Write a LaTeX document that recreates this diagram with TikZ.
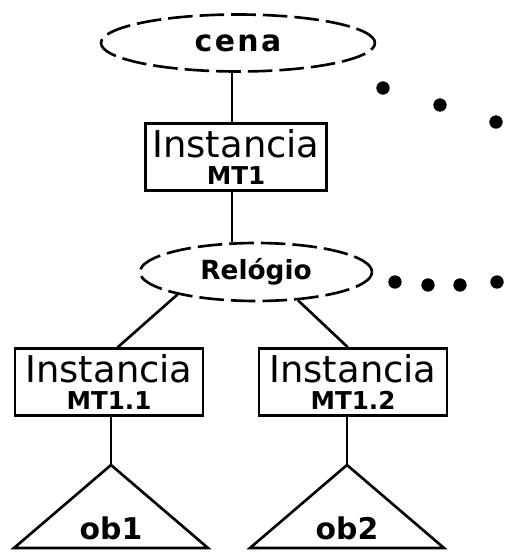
\documentclass[tikz,border=0pt]{standalone}
\usepackage{fontspec}
\setmainfont{DejaVu Sans}
\newfontfamily\spaced[LetterSpace=8]{DejaVu Sans}
\usetikzlibrary{shapes}
\tikzstyle{scene}=[ellipse,draw,line width=1.5pt,dash pattern=on 14pt off 4pt,inner sep=0pt]
\tikzstyle{instance}=[rectangle,draw,line width=1.5pt,align=center,inner sep=0pt,minimum height=1.34cm,font=\fontsize{21}{15}\selectfont]
\tikzstyle{objname}=[font=\fontsize{17}{19}\selectfont\bfseries]
\tikzstyle{edge}=[draw,line width=1.5pt]
\tikzstyle{dot}=[circle,fill=black,inner sep=0pt,minimum size=7.6pt]

\begin{document}
\begin{tikzpicture}[x=0.02cm,y=-0.02cm]
    \useasboundingbox (0,0) rectangle (512,558);
    % the two scene ellipses
    \node[scene,minimum width=5.48cm,minimum height=1.14cm,font=\fontsize{17}{19}\spaced\bfseries] (cena) at (238,43) {cena};
    \node[scene,minimum width=4.64cm,minimum height=1.16cm,font=\fontsize{15}{17}\selectfont\bfseries] (relogio) at (256,272) {Relógio};
    % instance boxes
    \foreach \pos/\name/\boxw/\label in {{(236,157)/MT1/3.62cm/MT1}, {(109,382)/MT11/3.76cm/MT1.1}, {(353,382)/MT12/3.76cm/MT1.2}}
        \node[instance,minimum width=\boxw] (\name) at \pos {Instancia\\{\fontsize{14}{15}\selectfont\bfseries\label}};
    % objects
    \foreach \x/\name/\label in {111/ob1/ob1, 347/ob2/ob2}{
        \coordinate (\name top) at (\x,465);
        \draw[line width=1.5pt,line join=miter] (\name top) -- ++(-97,83) -- ++(194,0) -- cycle;
        \node[objname] (\name) at (\x,528) {\label};
    }
    % dots
    \foreach \pos/\name in {{(383,88)/d1}, {(440,105)/d2}, {(496,122)/d3}, {(395,282)/d4}, {(428,285)/d5}, {(460,285)/d6}, {(497,282)/d7}}
        \node[dot] (\name) at \pos {};
    % Connect nodes
    \path[edge] (MT1.north -| 232,0) -- (cena.south -| 232,0);
    \path[edge] (MT1.south -| 232,0) -- (relogio.north -| 232,0);
    \path[edge] (relogio.196) -- ([xshift=5pt]MT11.north);
    \path[edge] (relogio.326) -- ([xshift=-3pt]MT12.north);
    \path[edge] (MT11.south -| ob1top) -- (ob1top);
    \path[edge] (MT12.south -| ob2top) -- (ob2top);
\end{tikzpicture}
\end{document}
